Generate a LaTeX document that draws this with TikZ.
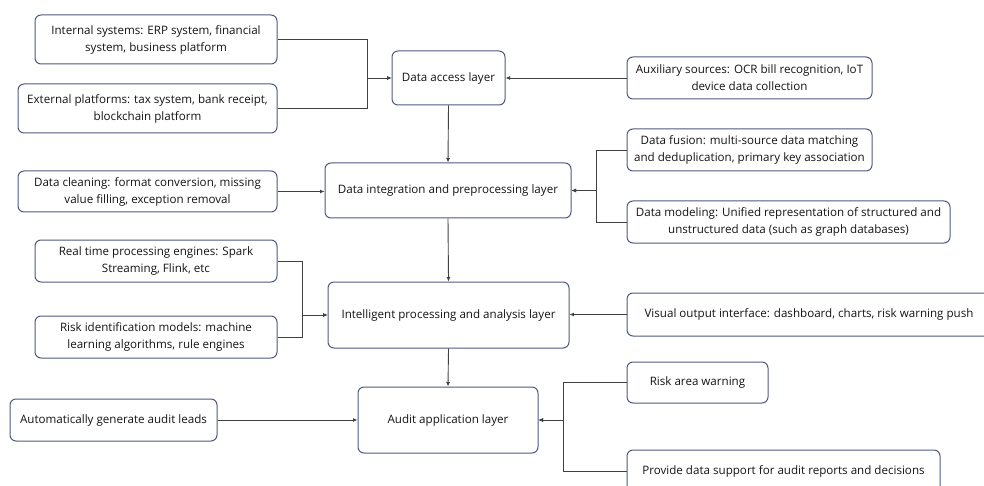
\documentclass[tikz,border=0pt]{standalone}
\usepackage{fontspec}
\setmainfont{Open Sans}
\usetikzlibrary{arrows.meta}
\definecolor{boxedge}{RGB}{80,88,128}
\definecolor{wire}{RGB}{64,64,64}
\definecolor{ink}{RGB}{20,20,20}
\tikzset{
  card/.style={draw=boxedge, line width=1pt, rounded corners=6pt, fill=white,
    align=center, inner sep=0pt, text=ink, font=\fontsize{11.6}{17}\selectfont},
  wirearrow/.style={draw=wire, line width=0.9pt, -{Latex[length=4.5pt,width=4pt]}},
}
\newcommand{\cardat}[6]{% name, cx, cy, w, h, text
  \node[card, minimum width=#4pt, minimum height=#5pt] (#1) at (#2,#3) {#6};}
\begin{document}
\begin{tikzpicture}[x=1pt, y=-1pt]
\useasboundingbox (0,0) rectangle (984,486);
\clip (0,0) rectangle (984,486);

% layer boxes along the centre column
\cardat{acc}{448.5}{78}{113}{54}{Data access layer}
\cardat{integ}{448}{190.5}{246}{55}{Data integration and preprocessing layer}
\cardat{intel}{448.5}{315}{241}{66}{Intelligent processing and analysis layer}
\cardat{aud}{448}{420}{180}{66}{Audit application layer}

% left-hand inputs
\cardat{ins}{156}{39.5}{242}{49}{Internal systems: ERP system, financial\\system, business platform}
\cardat{ext}{147.5}{108.5}{259}{49}{External platforms: tax system, bank receipt,\\blockchain platform}
\cardat{cln}{147.5}{191.5}{259}{41}{Data cleaning: format conversion, missing\\value filling, exception removal}
\cardat{rt}{156}{261}{242}{42}{Real time processing engines: Spark\\Streaming, Flink, etc}
\cardat{risk}{156}{337}{242}{42}{Risk identification models: machine\\learning algorithms, rule engines}
\cardat{gen}{113.5}{420}{207}{42}{Automatically generate audit leads}

% right-hand inputs
\cardat{aux}{749.5}{78}{245}{42}{Auxiliary sources: OCR bill recognition, IoT\\device data collection}
\cardat{fus}{749.5}{150}{245}{42}{Data fusion: multi-source data matching\\and deduplication, primary key association}
\cardat{mod}{788.5}{222}{323}{42}{Data modeling: Unified representation of structured and\\unstructured data (such as graph databases)}
\cardat{vis}{809}{314.5}{364}{43}{Visual output interface: dashboard, charts, risk warning push}
\cardat{raw}{697.5}{382.5}{141}{41}{Risk area warning}
\cardat{sup}{783.5}{471}{313}{42}{Provide data support for audit reports and decisions}

% junction points of the merged connectors
\coordinate (jacc) at (367,78);
\coordinate (jinteg) at (596,190.5);
\coordinate (jintel) at (302,315);
\coordinate (jaud) at (563,420);

% connectors into the data access layer
\draw[wirearrow] (ins.east) -| (jacc) -- (acc.west);
\draw[wirearrow] (ext.east) -| (jacc) -- (acc.west);
\draw[wirearrow] (aux.west) -- (acc.east);

% connectors into the integration layer
\draw[wirearrow] (acc.south) -- (integ.north);
\draw[wirearrow] (cln.east) -- (cln.east -| integ.west);
\draw[wirearrow] (fus.west) -| (jinteg) -- (integ.east);
\draw[wirearrow] (mod.west) -| (jinteg) -- (integ.east);

% connectors into the processing layer
\draw[wirearrow] (integ.south) -- (intel.north);
\draw[wirearrow] (rt.east) -| (jintel) -- (intel.west);
\draw[wirearrow] (risk.east) -| (jintel) -- (intel.west);
\draw[wirearrow] (vis.west) -- (vis.west -| intel.east);

% connectors into the application layer
\draw[wirearrow] (intel.south) -- (aud.north);
\draw[wirearrow] (gen.east) -- (gen.east -| aud.west);
\draw[wirearrow] (raw.west) -| (jaud) -- (aud.east);
\draw[wirearrow] (sup.west) -| (jaud) -- (aud.east);
\end{tikzpicture}
\end{document}
